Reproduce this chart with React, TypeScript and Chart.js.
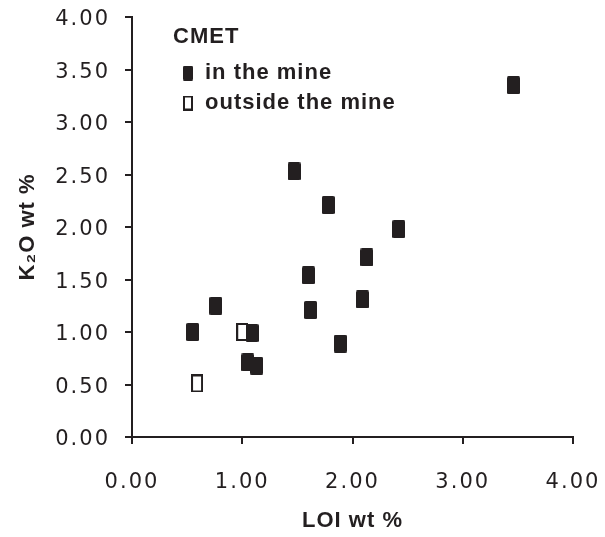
import React, { useEffect, useRef } from "react";
import { Chart, registerables } from "chart.js";

Chart.register(...registerables);

const inMineLOI = [0.55, 0.76, 1.09, 1.05, 1.13, 1.47, 1.78, 1.6, 1.62, 1.89, 2.09, 2.13, 2.42, 3.46];
const inMineK2O = [1.0, 1.25, 0.99, 0.71, 0.68, 2.53, 2.21, 1.54, 1.21, 0.89, 1.31, 1.71, 1.98, 3.35];
const outsideLOI = [1.0, 0.59];
const outsideK2O = [1.0, 0.51];

const legendTitle = "CMET";
const seriesLabels = ["in the mine", "outside the mine"];
const xTitle = "LOI wt %";
const yTitle = "K\u2082O wt %";

const INK = "#231f20";

function makeMarker(w: number, h: number, filled: boolean): HTMLCanvasElement {
  const c = document.createElement("canvas");
  c.width = w;
  c.height = h;
  const g = c.getContext("2d")!;
  if (filled) {
    g.fillStyle = INK;
    g.beginPath();
    (g as any).roundRect ? (g as any).roundRect(0, 0, w, h, 1.5) : g.rect(0, 0, w, h);
    g.fill();
  } else {
    g.fillStyle = "#ffffff";
    g.fillRect(0, 0, w, h);
    g.strokeStyle = INK;
    g.lineWidth = 2;
    g.strokeRect(1, 1, w - 2, h - 2);
  }
  return c;
}

export default function App() {
  const ref = useRef<HTMLCanvasElement | null>(null);

  useEffect(() => {
    if (!ref.current) return;
    const filledMarker = makeMarker(13, 18, true);
    const openMarker = makeMarker(12, 18, false);
    const filledLegend = makeMarker(10, 15, true);
    const openLegend = makeMarker(10, 15, false);

    const spacingPlugin = {
      id: "spacing",
      beforeDraw(chart: any) {
        (chart.ctx as any).letterSpacing = "1px";
      },
      afterDatasetsDraw(chart: any) {
        (chart.ctx as any).letterSpacing = "2px";
      },
      afterDraw(chart: any) {
        const ctx = chart.ctx;
        ctx.save();
        (ctx as any).letterSpacing = "1px";
        ctx.fillStyle = INK;
        ctx.font = "bold 22px 'Liberation Sans', Arial, sans-serif";
        ctx.textAlign = "left";
        ctx.textBaseline = "middle";
        ctx.fillText(legendTitle, 173, 37);
        const markers = [filledLegend, openLegend];
        seriesLabels.forEach((lab, i) => {
          const y = 73 + i * 30;
          ctx.drawImage(markers[i], 183, y - 7.5);
          ctx.fillText(lab, 205, y);
        });
        ctx.restore();
        (ctx as any).letterSpacing = "0px";
      },
    };

    const tickFont = { family: "'DejaVu Sans', sans-serif", size: 21 };
    const titleFont = { family: "'Liberation Sans', Arial, sans-serif", size: 22, weight: "bold" as const };

    const chart = new Chart(ref.current, {
      type: "scatter",
      data: {
        datasets: [
          {
            label: seriesLabels[0],
            data: inMineLOI.map((x, i) => ({ x, y: inMineK2O[i] })),
            pointStyle: filledMarker,
            pointRadius: 7,
          },
          {
            label: seriesLabels[1],
            data: outsideLOI.map((x, i) => ({ x, y: outsideK2O[i] })),
            pointStyle: openMarker,
            pointRadius: 7,
          },
        ],
      },
      options: {
        responsive: false,
        animation: false,
        layout: { padding: { top: 17, right: 32, left: 0, bottom: 0 } },
        plugins: { legend: { display: false }, tooltip: { enabled: false } },
        scales: {
          x: {
            type: "linear",
            min: 0,
            max: 4,
            afterFit(scale: any) {
              scale.height = 100;
              scale.paddingLeft = 0;
              scale.paddingRight = 0;
            },
            ticks: {
              stepSize: 1,
              color: INK,
              font: tickFont,
              padding: 26,
              z: 1,
              maxRotation: 0,
              callback: (v: any) => Number(v).toFixed(2),
            },
            grid: { drawOnChartArea: false, tickLength: 7, color: INK, lineWidth: 2 },
            border: { color: INK, width: 2 },
            title: { display: true, text: xTitle, color: INK, font: titleFont, padding: { top: 0, bottom: 3 } },
          },
          y: {
            type: "linear",
            min: 0,
            max: 4,
            afterFit(scale: any) {
              scale.width = 132;
              scale.paddingTop = 0;
              scale.paddingBottom = 0;
            },
            ticks: {
              stepSize: 0.5,
              color: INK,
              font: tickFont,
              padding: 15,
              labelOffset: 3,
              z: 1,
              callback: (v: any) => Number(v).toFixed(2),
            },
            grid: { drawOnChartArea: false, tickLength: 7, color: INK, lineWidth: 2 },
            border: { color: INK, width: 2 },
            title: { display: true, text: yTitle, color: INK, font: titleFont, padding: { top: 15, bottom: 0 } },
          },
        },
      },
      plugins: [spacingPlugin],
    });
    return () => chart.destroy();
  }, []);

  return (
    <div style={{ position: "absolute", left: 0, top: 0, width: 605, height: 537, background: "#fff" }}>
      <canvas ref={ref} width={605} height={537} style={{ display: "block" }} />
    </div>
  );
}
